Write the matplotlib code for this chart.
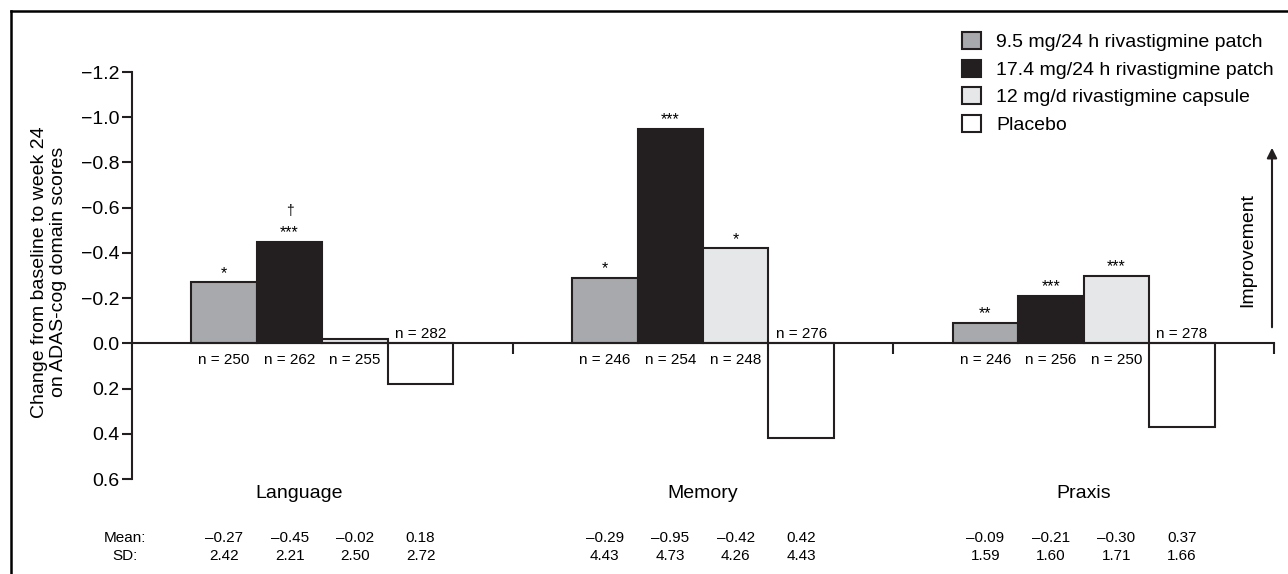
import matplotlib.pyplot as plt
import matplotlib.patches as mpatches
from matplotlib.lines import Line2D

plt.rcParams['font.family'] = ['Liberation Sans', 'DejaVu Sans']

# data
domains = ["Language", "Memory", "Praxis"]
treatments = ["9.5 mg/24 h rivastigmine patch", "17.4 mg/24 h rivastigmine patch",
              "12 mg/d rivastigmine capsule", "Placebo"]
means = [[-0.27, -0.45, -0.02, 0.18],
         [-0.29, -0.95, -0.42, 0.42],
         [-0.09, -0.21, -0.30, 0.37]]
sds = [[2.42, 2.21, 2.50, 2.72],
       [4.43, 4.73, 4.26, 4.43],
       [1.59, 1.60, 1.71, 1.66]]
n_patients = [[250, 262, 255, 282],
              [246, 254, 248, 276],
              [246, 256, 250, 278]]
stars = [["*", "***", "", ""],
         ["*", "***", "*", ""],
         ["**", "***", "***", ""]]
daggers = [["", "\u2020", "", ""],
           ["", "", "", ""],
           ["", "", "", ""]]
yticks = [-1.2, -1.0, -0.8, -0.6, -0.4, -0.2, 0.0, 0.2, 0.4, 0.6]

colors = ["#a7a9ac", "#231f20", "#e6e7e8", "white"]
ink = "#231f20"
W, H = 1288, 574


def fmt(v):
    return f"{v:.2f}".replace("-", "\u2013")


fig = plt.figure(figsize=(W / 100, H / 100), dpi=100)
ax = fig.add_axes([132 / W, 1 - 479 / H, (1274 - 132) / W, (479 - 72) / H])

width = 0.172
for g, dom in enumerate(domains):
    for i in range(4):
        x = g + 0.5 + (i - 1.5) * width
        v = means[g][i]
        ax.bar(x, v, width, color=colors[i], edgecolor=ink, lw=1.5, zorder=2)
        # n labels: under the active bars, above the placebo bar
        if v <= 0 and i < 3:
            ax.text(x, 0.072, f"n = {n_patients[g][i]}", ha='center', va='center', fontsize=11)
        else:
            ax.text(x, -0.042, f"n = {n_patients[g][i]}", ha='center', va='center', fontsize=11)
        if stars[g][i]:
            ax.text(x, v - 0.04, stars[g][i], ha='center', va='center', fontsize=11.5)
        if daggers[g][i]:
            ax.text(x, v - 0.135, daggers[g][i], ha='center', va='center', fontsize=10)
        ax.text(x, 0.863, fmt(v), ha='center', va='center', fontsize=11)
        ax.text(x, 0.942, f"{sds[g][i]:.2f}", ha='center', va='center', fontsize=11)
    lx = g + 0.5 - (0.06 if g == 0 else 0.0)
    ax.text(lx, 0.665, dom, ha='center', va='center', fontsize=14)

ax.text(-0.018, 0.863, "Mean:", ha='center', va='center', fontsize=11)
ax.text(-0.018, 0.942, "SD:", ha='center', va='center', fontsize=11)

ax.set_xlim(0, 3)
ax.set_ylim(0.6, -1.2)
ax.spines['top'].set_visible(False)
ax.spines['right'].set_visible(False)
ax.spines['bottom'].set_position(('data', 0))
ax.spines['bottom'].set_zorder(3)
for s in ['left', 'bottom']:
    ax.spines[s].set_linewidth(1.5)
    ax.spines[s].set_color(ink)
ax.set_xticks([1, 2, 3])
ax.set_xticklabels([])
ax.tick_params(axis='x', length=8, width=1.5, direction='out', color=ink)
ax.set_yticks(yticks)
ax.set_yticklabels([f"{t:.1f}".replace("-", "\u2212") for t in yticks])
ax.tick_params(axis='y', length=7, width=1.5, direction='out', labelsize=14, pad=2, color=ink)

fig.text(49 / W, 1 - 272 / H, "Change from baseline to week 24\non ADAS-cog domain scores",
         rotation=90, ha='center', va='center', multialignment='center', fontsize=14, linespacing=1.2)

handles = [mpatches.Patch(facecolor=c, edgecolor=ink, lw=1.5, label=t) for c, t in zip(colors, treatments)]
fig.legend(handles=handles, loc='upper left', bbox_to_anchor=(962 / W, 1 - 32 / H), frameon=False,
           fontsize=14, handlelength=1.0, handleheight=1.0, handletextpad=0.75, labelspacing=0.42,
           borderpad=0, borderaxespad=0)

# improvement arrow
ax.annotate("", xy=(1272 / W, 1 - 145 / H), xycoords='figure fraction',
            xytext=(1272 / W, 1 - 330 / H), textcoords='figure fraction',
            arrowprops=dict(arrowstyle='-|>', lw=1.5, color=ink, mutation_scale=15))
fig.text(1248 / W, 1 - 250 / H, "Improvement", rotation=90, ha='center', va='center', fontsize=14)

# outer frame (top and left)
fig.add_artist(Line2D([11 / W, 1], [1 - 11 / H, 1 - 11 / H], color='black', lw=1.8))
fig.add_artist(Line2D([11 / W, 11 / W], [0, 1 - 11 / H], color='black', lw=1.8))

fig.savefig('out.png', dpi=100)
